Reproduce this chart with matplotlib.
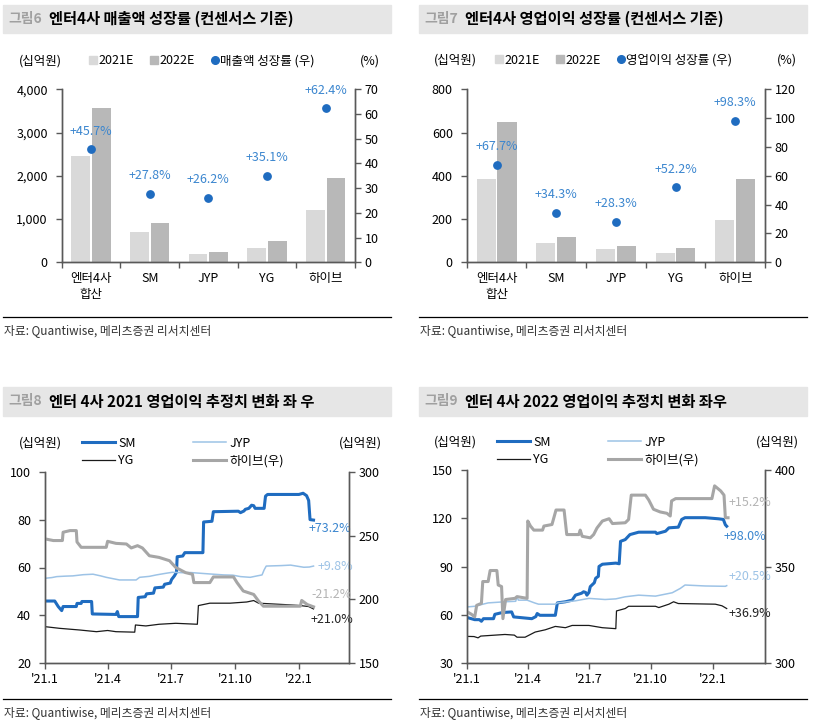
import numpy as np
import pandas as pd
import matplotlib
matplotlib.use("Agg")
import matplotlib.pyplot as plt
from matplotlib.patches import Rectangle
from matplotlib.lines import Line2D

plt.rcParams["font.family"] = ["Noto Sans CJK KR", "DejaVu Sans"]
plt.rcParams["axes.unicode_minus"] = False

W, H = 813, 722

# ---- 그림6 / 그림7 : bar data (십억원, %)
companies = ["엔터4사\n합산", "SM", "JYP", "YG", "하이브"]
sales_2021e = [2455, 710, 195, 340, 1205]
sales_2022e = [3575, 915, 245, 485, 1950]
sales_growth = [45.7, 27.8, 26.2, 35.1, 62.4]
op_2021e = [385, 89, 62, 43, 196]
op_2022e = [647, 119, 77, 66, 385]
op_growth = [67.7, 34.3, 28.3, 52.2, 98.3]

# ---- 그림8 / 그림9 : estimate history, (days since 2021-01-01, value)
base_date = "2021-01-01"
tick_dates = ["2021-01-01", "2021-04-01", "2021-07-01", "2021-10-01", "2022-01-01"]
tick_labels = ["'21.1", "'21.4", "'21.7", "'21.10", "'22.1"]

f8_sm = [(0, 46.0), (14, 46.0), (19, 43.7), (24, 42.0), (26, 43.7), (45, 43.7), (46, 45.0),
         (52, 45.0), (53, 45.8), (67, 45.8), (68, 40.6), (102, 40.4), (104, 41.6), (106, 39.5),
         (133, 39.5), (134, 47.5), (144, 47.8), (146, 49.0), (156, 49.3), (158, 51.5),
         (170, 51.8), (172, 53.0), (180, 53.5), (182, 55.0), (186, 56.5), (189, 58.0),
         (190, 64.5), (198, 64.8), (201, 66.2), (227, 66.2), (228, 79.0), (240, 79.3),
         (242, 83.3), (278, 83.5), (281, 82.9), (286, 83.6), (288, 84.3), (293, 84.7),
         (297, 86.0), (300, 85.8), (302, 84.7), (315, 84.7), (317, 89.8), (320, 90.5),
         (365, 90.5), (371, 91.0), (376, 90.0), (379, 88.0), (381, 80.0), (386, 79.8)]
f8_jyp = [(0, 55.5), (10, 55.8), (17, 56.2), (30, 56.4), (40, 56.5), (55, 57.0), (69, 57.2),
          (80, 56.5), (88, 55.9), (100, 55.2), (107, 54.8), (131, 54.8), (136, 55.9),
          (150, 56.3), (160, 56.9), (172, 57.5), (183, 58.0), (200, 57.8), (209, 57.9),
          (237, 57.3), (257, 56.9), (270, 56.8), (281, 56.2), (295, 55.9), (305, 56.5),
          (312, 56.9), (315, 59.0), (318, 60.6), (340, 60.8), (353, 61.0), (372, 60.1),
          (380, 60.2), (386, 60.6)]
f8_yg = [(0, 35.3), (21, 34.6), (50, 33.9), (74, 33.2), (90, 33.7), (102, 33.2), (129, 33.0),
         (130, 36.0), (145, 35.6), (164, 36.3), (188, 36.7), (219, 36.3), (220.5, 44.1),
         (237, 45.1), (266, 45.1), (290, 45.6), (300, 46.2), (307, 45.1), (352, 44.4),
         (367, 44.1), (379, 43.7), (386, 42.7)]
f8_hybe = [(0, 247.4), (12, 246.1), (25, 246.1), (26, 252.6), (36, 253.9), (45, 253.9),
           (46, 245.0), (52, 240.8), (88, 240.8), (90, 245.5), (102, 243.9), (117, 243.4),
           (124, 240.3), (133, 242.1), (140, 240.3), (150, 234.2), (164, 232.9), (179, 230.3),
           (188, 225.0), (202, 221.0), (212, 219.7), (214, 213.2), (237, 213.2), (242, 217.6),
           (271, 217.6), (276, 213.2), (285, 206.6), (300, 203.9), (307, 198.7), (314, 194.7),
           (367, 194.7), (369, 199.2), (377, 196.0), (386, 194.2)]

f9_sm = [(0, 58.4), (11, 57.1), (18, 57.1), (21, 56.1), (24, 57.7), (39, 57.7), (41, 60.4),
         (52, 61.5), (66, 61.9), (69, 58.8), (96, 57.7), (102, 59.0), (104, 60.9), (108, 59.8),
         (131, 59.8), (134, 67.5), (146, 68.2), (156, 69.2), (161, 72.3), (170, 73.5),
         (173, 74.4), (176, 74.0), (178, 72.3), (181, 74.0), (183, 77.6), (189, 80.0),
         (191, 82.8), (195, 84.0), (196, 90.1), (201, 91.5), (221, 92.2), (226, 91.8),
         (228, 105.7), (235, 106.8), (242, 109.9), (255, 111.4), (280, 111.4), (282, 110.5),
         (295, 112.0), (300, 114.1), (314, 114.5), (319, 119.3), (324, 120.4), (354, 120.4),
         (374, 119.7), (381, 119.3), (384, 116.0), (386, 115.1)]
f9_jyp = [(0, 65.0), (11, 65.4), (31, 67.5), (56, 68.2), (72, 68.5), (74, 71.3), (76, 69.2),
          (89, 69.2), (100, 67.5), (106, 66.7), (131, 66.7), (134, 67.5), (161, 68.8),
          (181, 70.3), (205, 69.6), (221, 70.0), (235, 71.3), (255, 72.3), (280, 71.7),
          (305, 73.8), (317, 76.5), (324, 78.6), (354, 78.0), (384, 77.8), (386, 78.2)]
f9_yg = [(0, 46.7), (10, 46.6), (16, 45.8), (20, 46.9), (56, 47.9), (70, 47.5), (74, 46.2),
         (86, 46.2), (101, 49.4), (116, 50.8), (131, 52.9), (146, 52.1), (156, 53.5),
         (181, 53.5), (201, 52.1), (221, 51.5), (222, 62.5), (235, 64.0), (240, 65.4),
         (280, 65.4), (285, 64.6), (300, 66.7), (307, 68.2), (314, 67.1), (369, 66.7),
         (379, 65.7), (386, 64.0)]
f9_hybe = [(0, 326.6), (6, 325.4), (11, 324.0), (14, 330.0), (21, 331.0), (23, 342.3),
           (31, 342.3), (34, 348.0), (44, 348.0), (46, 340.5), (51, 339.7), (53, 323.1),
           (57, 333.0), (71, 333.6), (74, 334.5), (89, 333.6), (90, 373.6), (94, 371.0),
           (99, 368.9), (112, 368.9), (114, 371.0), (126, 371.8), (132, 379.3), (144, 379.3),
           (148, 366.6), (166, 366.6), (168, 368.9), (171, 365.7), (183, 364.9), (188, 366.6),
           (193, 370.0), (201, 373.6), (211, 374.8), (216, 372.3), (235, 372.7), (240, 374.4),
           (244, 387.0), (265, 387.0), (270, 384.5), (277, 379.7), (287, 378.3), (297, 377.6),
           (302, 376.2), (304, 384.0), (310, 385.2), (364, 385.2), (368, 391.8), (377, 389.2),
           (382, 387.0), (384, 375.3), (388, 375.3)]

f8_end_labels = ["+73.2%", "+9.8%", "+21.0%", "-21.2%"]
f9_end_labels = ["+98.0%", "+20.5%", "+36.9%", "+15.2%"]

C_SM = "#1f6cc0"
C_JYP = "#9dc3e6"
C_YG = "#1a1a1a"
C_HYBE = "#a6a6a6"
C_21 = "#d9d9d9"
C_22 = "#b8b8b8"
C_LBL = "#3b86cf"
C_AX = "#595959"


def px_rect(x0, y0, x1, y1):
    return [x0 / W, 1 - y1 / H, (x1 - x0) / W, (y1 - y0) / H]


def header(fig, x0, x1, y0, y1, num, title):
    fig.patches.append(Rectangle((x0 / W, 1 - y1 / H), (x1 - x0) / W, (y1 - y0) / H,
                                 transform=fig.transFigure, color="#e6e6e6", zorder=0))
    yc = 1 - (y0 + y1) / 2 / H
    fig.text((x0 + 5) / W, yc, num, color="#a0a0a0", fontsize=10, fontweight="bold", va="center")
    fig.text((x0 + 46) / W, yc, title, color="black", fontsize=11, fontweight="bold", va="center")


def footer(fig, x0, x1, y):
    fig.add_artist(Line2D([x0 / W, x1 / W], [1 - y / H, 1 - y / H], color="black", lw=0.9))
    fig.text((x0 + 1) / W, 1 - (y + 13) / H, "자료: Quantiwise, 메리츠증권 리서치센터",
             fontsize=8.5, color="#333333", va="center")


def style_axes(ax, twin):
    ax.spines["top"].set_visible(False)
    twin.spines["top"].set_visible(False)
    for a in (ax, twin):
        for s in a.spines.values():
            s.set_color(C_AX)
            s.set_linewidth(1.0)
    ax.tick_params(axis="y", direction="out", length=4, width=1, color=C_AX, labelsize=9, pad=6)
    twin.tick_params(axis="y", direction="out", length=4, width=1, color=C_AX, labelsize=9, pad=3)


def bar_panel(fig, rect, v21, v22, growth, ylim, yticks, rlim, rticks):
    ax = fig.add_axes(rect)
    twin = ax.twinx()
    x = np.arange(len(companies))
    w = 0.32
    ax.bar(x - 0.175, v21, w, color=C_21, zorder=2)
    ax.bar(x + 0.175, v22, w, color=C_22, zorder=2)
    twin.scatter(x, growth, s=28, color=C_SM, zorder=3)
    for xi, g in zip(x, growth):
        twin.annotate(f"+{g:.1f}%", (xi, g), xytext=(0, 18), textcoords="offset pixels",
                      ha="center", va="center", color=C_LBL, fontsize=9)
    ax.set_xlim(-0.5, len(companies) - 0.5)
    ax.set_ylim(*ylim)
    ax.set_yticks(yticks)
    ax.set_yticklabels([f"{t:,}" for t in yticks])
    twin.set_ylim(*rlim)
    twin.set_yticks(rticks)
    ax.set_xticks(x)
    ax.set_xticklabels(companies, fontsize=9, linespacing=1.3)
    ax.set_xticks(np.arange(-0.5, len(companies)), minor=True)
    ax.tick_params(axis="x", which="major", length=0, pad=7)
    ax.tick_params(axis="x", which="minor", length=4, width=1, color=C_AX, direction="out")
    style_axes(ax, twin)
    return ax, twin


def bar_legend(fig, x, y, dot_label):
    handles = [Rectangle((0, 0), 1, 1, color=C_21), Rectangle((0, 0), 1, 1, color=C_22),
               Line2D([], [], marker="o", ls="none", color=C_SM, markersize=5.5)]
    fig.legend(handles, ["2021E", "2022E", dot_label], ncol=3, loc="center left",
               bbox_to_anchor=(x / W, 1 - y / H), frameon=False, fontsize=9,
               handlelength=0.6, handleheight=0.6, handletextpad=0.15, columnspacing=1.3,
               borderpad=0, borderaxespad=0)


def to_xy(series):
    d, v = zip(*series)
    return np.array(d, dtype=float), np.array(v, dtype=float)


def line_panel(fig, rect, sm, jyp, yg, hybe, ylim, yticks, rlim, rticks, xend, end_labels, offsets):
    ax = fig.add_axes(rect)
    twin = ax.twinx()
    base = pd.Timestamp(base_date)
    tdays = [(pd.Timestamp(d) - base).days for d in tick_dates]
    ends = []
    for data, a, color, lw in ((sm, ax, C_SM, 2.2), (jyp, ax, C_JYP, 1.1),
                               (yg, ax, C_YG, 0.9), (hybe, twin, C_HYBE, 2.2)):
        dx, dv = to_xy(data)
        a.plot(dx, dv, color=color, lw=lw, solid_joinstyle="round")
        ends.append((a, dx[-1], dv[-1]))
    lbl_colors = [C_LBL, C_JYP, "#222222", "#b4b4b4"]
    for (a, ex, ev), txt, off, lc in zip(ends, end_labels, offsets, lbl_colors):
        a.annotate(txt, (ex, ev), xytext=off, textcoords="offset pixels",
                   ha="left", va="center", color=lc, fontsize=9)
    ax.set_xlim(0, (pd.Timestamp(xend) - base).days)
    ax.set_xticks(tdays)
    ax.set_xticklabels(tick_labels, fontsize=9)
    ax.tick_params(axis="x", direction="out", length=4, width=1, color=C_AX, pad=3)
    ax.set_ylim(*ylim)
    ax.set_yticks(yticks)
    twin.set_ylim(*rlim)
    twin.set_yticks(rticks)
    style_axes(ax, twin)
    return ax, twin


def line_legend(fig, x, y):
    handles = [Line2D([], [], color=C_SM, lw=2.2), Line2D([], [], color=C_YG, lw=0.9),
               Line2D([], [], color=C_JYP, lw=1.1), Line2D([], [], color=C_HYBE, lw=2.2)]
    fig.legend(handles, ["SM", "YG", "JYP", "하이브(우)"], ncol=2, loc="center left",
               bbox_to_anchor=(x / W, 1 - y / H), frameon=False, fontsize=9,
               handlelength=2.6, handletextpad=0.3, columnspacing=4.6, labelspacing=0.35,
               borderpad=0, borderaxespad=0)


fig = plt.figure(figsize=(W / 100, H / 100), dpi=100)

# 그림6
header(fig, 3, 391, 5, 33, "그림6", "엔터4사 매출액 성장률 (컨센서스 기준)")
bar_panel(fig, px_rect(61.7, 89.3, 355, 262.3), sales_2021e, sales_2022e, sales_growth,
          (0, 4000), [0, 1000, 2000, 3000, 4000], (0, 70), list(range(0, 71, 10)))
fig.text(40 / W, 1 - 61 / H, "(십억원)", fontsize=9, ha="center", va="center")
fig.text(370 / W, 1 - 61 / H, "(%)", fontsize=9, ha="center", va="center")
bar_legend(fig, 89, 61, "매출액 성장률 (우)")
footer(fig, 3, 391, 317.3)

# 그림7
header(fig, 419, 807, 5, 33, "그림7", "엔터4사 영업이익 성장률 (컨센서스 기준)")
bar_panel(fig, px_rect(466.7, 89.3, 765, 262.3), op_2021e, op_2022e, op_growth,
          (0, 800), [0, 200, 400, 600, 800], (0, 120), list(range(0, 121, 20)))
fig.text(455 / W, 1 - 60 / H, "(십억원)", fontsize=9, ha="center", va="center")
fig.text(787 / W, 1 - 60 / H, "(%)", fontsize=9, ha="center", va="center")
bar_legend(fig, 495, 60, "영업이익 성장률 (우)")
footer(fig, 419, 807, 317.3)

# 그림8
header(fig, 3, 391, 387, 416, "그림8", "엔터 4사 2021 영업이익 추정치 변화 좌 우")
line_panel(fig, px_rect(45, 471.7, 349, 663.3), f8_sm, f8_jyp, f8_yg, f8_hybe,
           (20, 100), [20, 40, 60, 80, 100], (150, 300), [150, 200, 250, 300],
           "2022-03-14", f8_end_labels, [(-5, -8), (4, 0), (-3, -11), (-2, 12)])
fig.text(40 / W, 1 - 443 / H, "(십억원)", fontsize=9, ha="center", va="center")
fig.text(360 / W, 1 - 443 / H, "(십억원)", fontsize=9, ha="center", va="center")
line_legend(fig, 82, 452)
footer(fig, 3, 391, 699.3)

# 그림9
header(fig, 419, 807, 387, 416, "그림9", "엔터 4사 2022 영업이익 추정치 변화 좌우")
line_panel(fig, px_rect(467.3, 470, 765, 663.3), f9_sm, f9_jyp, f9_yg, f9_hybe,
           (30, 150), [30, 60, 90, 120, 150], (300, 400), [300, 350, 400],
           "2022-03-20", f9_end_labels, [(-3, -10), (2, 9), (2, -5), (0, 15)])
fig.text(455 / W, 1 - 442 / H, "(십억원)", fontsize=9, ha="center", va="center")
fig.text(777 / W, 1 - 442 / H, "(십억원)", fontsize=9, ha="center", va="center")
line_legend(fig, 497, 451)
footer(fig, 419, 807, 699.3)

fig.savefig("out.png", dpi=100)
